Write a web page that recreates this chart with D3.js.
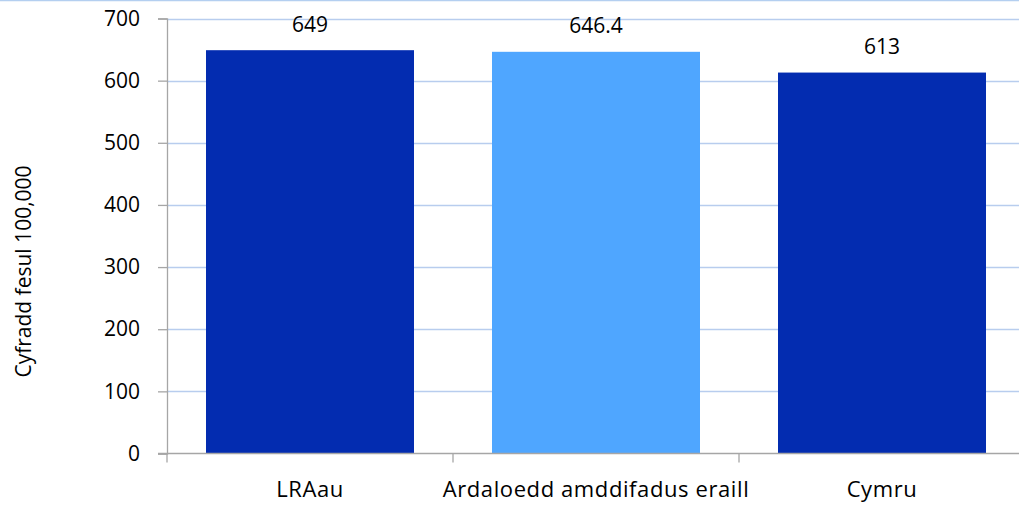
<!DOCTYPE html>
<html>
<head>
<meta charset="utf-8">
<script src="https://cdn.jsdelivr.net/npm/d3@7"></script>
<style>
  html, body { margin: 0; padding: 0; background: #fff; }
  svg { display: block; }
  text { font-family: "Open Sans", Lato, sans-serif; fill: #000; }
</style>
</head>
<body>
<svg id="chart" width="1019" height="506"></svg>
<script>
// Rates per 100,000 by area
const categories = ["LRAau", "Ardaloedd amddifadus eraill", "Cymru"];
const values = [649, 646.4, 613];
const valueLabels = ["649", "646.4", "613"];
const barColors = ["#032cb0", "#4fa6ff", "#032cb0"];
const yTicks = [0, 100, 200, 300, 400, 500, 600, 700];
const yTitle = "Cyfradd fesul 100,000";

const svg = d3.select("#chart");
const W = 1019, H = 506;
const plotLeft = 167, plotTop = 18.5, plotBottom = 453.5;
const bandW = 286;
const fontSize = 21;
const catFontSize = 22;

// top border line
svg.append("line")
  .attr("x1", 0).attr("x2", W).attr("y1", 0.5).attr("y2", 0.5)
  .attr("stroke", "#b4cff0").attr("stroke-width", 1.5);

const x = d3.scaleBand()
  .domain(categories)
  .range([plotLeft, plotLeft + bandW * categories.length])
  .paddingInner(78 / 286).paddingOuter(39 / 286);

const y = d3.scaleLinear().domain([0, 700]).range([plotBottom, plotTop]);

// horizontal gridlines
svg.append("g").selectAll("line")
  .data(yTicks.filter(d => d > 0))
  .join("line")
  .attr("x1", plotLeft).attr("x2", W)
  .attr("y1", d => Math.round(y(d)) + 0.5).attr("y2", d => Math.round(y(d)) + 0.5)
  .attr("stroke", "#b8cdee").attr("stroke-width", 1.3);

// bars
svg.append("g").selectAll("rect")
  .data(values)
  .join("rect")
  .attr("x", (d, i) => x(categories[i]))
  .attr("width", x.bandwidth())
  .attr("y", d => y(d))
  .attr("height", d => y(0) - y(d))
  .attr("fill", (d, i) => barColors[i]);

// value labels
svg.append("g").selectAll("text")
  .data(values)
  .join("text")
  .attr("x", (d, i) => x(categories[i]) + x.bandwidth() / 2)
  .attr("y", d => y(d) - 18.5)
  .attr("text-anchor", "middle")
  .attr("font-size", fontSize)
  .text((d, i) => valueLabels[i]);

// y axis
const yAxis = d3.axisLeft(y).tickValues(yTicks).tickSize(9).tickPadding(18)
  .tickFormat(d3.format("d"));
const gy = svg.append("g").attr("transform", `translate(${plotLeft},0)`).call(yAxis);
gy.select(".domain").attr("stroke", "#a6a6a6").attr("stroke-width", 1.3);
gy.selectAll(".tick line").attr("stroke", "#a6a6a6").attr("stroke-width", 1.3);
gy.selectAll(".tick text").attr("font-size", fontSize)
  .attr("font-family", "'Open Sans', Lato, sans-serif").attr("fill", "#000");

// x axis with boundary ticks between categories
const gx = svg.append("g");
gx.append("line")
  .attr("x1", plotLeft - 9).attr("x2", W)
  .attr("y1", plotBottom).attr("y2", plotBottom)
  .attr("stroke", "#a6a6a6").attr("stroke-width", 1.5);
const bounds = d3.range(categories.length).map(i => plotLeft + i * bandW);
gx.selectAll("line.sep")
  .data(bounds)
  .join("line").attr("class", "sep")
  .attr("x1", d => d).attr("x2", d => d)
  .attr("y1", plotBottom).attr("y2", plotBottom + 9)
  .attr("stroke", "#a6a6a6").attr("stroke-width", 1.3);
gx.selectAll("text")
  .data(categories)
  .join("text")
  .attr("x", d => x(d) + x.bandwidth() / 2)
  .attr("y", 497)
  .attr("text-anchor", "middle")
  .attr("font-size", catFontSize)
  .attr("letter-spacing", 0.6)
  .text(d => d);

// y axis title
svg.append("text")
  .attr("transform", `translate(31,${271.5}) rotate(-90)`)
  .attr("text-anchor", "middle")
  .attr("font-size", fontSize)
  .text(yTitle);
</script>
</body>
</html>
